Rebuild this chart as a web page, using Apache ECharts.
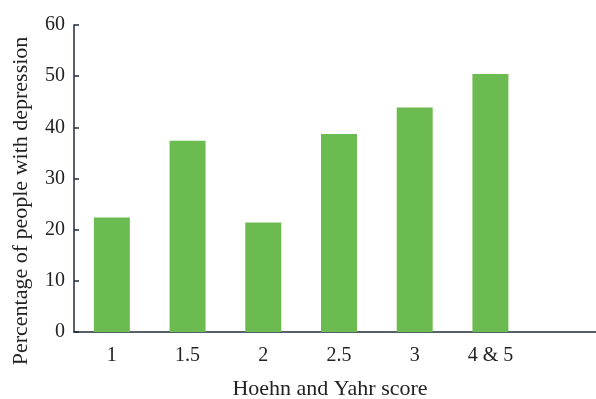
<!DOCTYPE html>
<html>
<head>
<meta charset="utf-8">
<script src="https://cdn.jsdelivr.net/npm/echarts@6/dist/echarts.min.js"></script>
<style>
	html,body{margin:0;padding:0;background:#fff;}
	#chart{width:596px;height:399px;}
</style>
</head>
<body>
<div id="chart"></div>
<script>
	// 数据
	var categories = ['1', '1.5', '2', '2.5', '3', '4 & 5', ''];
	var values = [22.4, 37.4, 21.4, 38.7, 43.9, 50.4, null];
	var yTicks = [0, 10, 20, 30, 40, 50, 60];

	var axisColor = '#1f2d3a';
	var fontName = 'Liberation Serif';

	var myChart1 = echarts.init(document.getElementById('chart'));
	var option1 = {
		animation: false,
		grid: {
			left: 74,
			top: 25,
			width: 530,
			bottom: 67,
			containLabel: false,
			outerBoundsMode: 'none'
		},
		xAxis: {
			type: 'category',
			data: categories,
			name: 'Hoehn and Yahr score',
			nameLocation: 'middle',
			nameGap: 46,
			nameTextStyle: {color: '#222', fontFamily: fontName, fontSize: 22, padding: [0, 18, 0, 0]},
			axisLine: {lineStyle: {color: axisColor, width: 1.5}},
			axisTick: {inside: true, length: 5, lineStyle: {color: axisColor, width: 1.5}},
			axisLabel: {
				margin: 14,
				color: '#222',
				fontFamily: fontName,
				fontSize: 20
			}
		},
		yAxis: {
			type: 'value',
			min: yTicks[0],
			max: yTicks[yTicks.length - 1],
			interval: 10,
			name: 'Percentage of people with depression',
			nameLocation: 'middle',
			nameGap: 42,
			nameTextStyle: {color: '#222', fontFamily: fontName, fontSize: 22, padding: [0, 45, 0, 0]},
			splitLine: {show: false},
			axisLine: {show: true, lineStyle: {color: axisColor, width: 1.5}},
			axisTick: {show: true, inside: true, length: 5, lineStyle: {color: axisColor, width: 1.5}},
			axisLabel: {
				margin: 9,
				color: '#222',
				fontFamily: fontName,
				fontSize: 20
			}
		},
		series: [{
			type: 'bar',
			data: values,
			barWidth: 36,
			itemStyle: {color: '#6cbb50'}
		}]
	};
	myChart1.setOption(option1);
</script>
</body>
</html>
